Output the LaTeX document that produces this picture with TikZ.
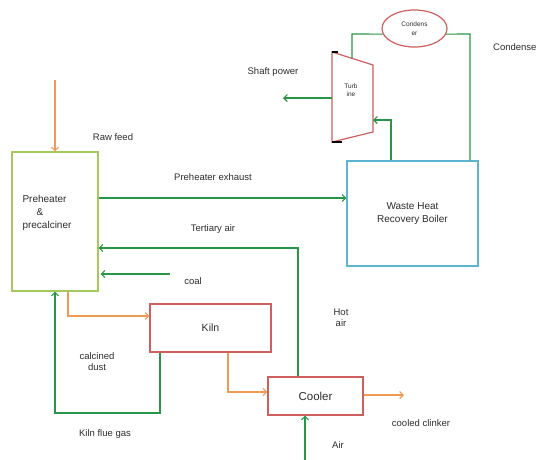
\documentclass[tikz,border=0pt]{standalone}
\usepackage{fontspec}
\setmainfont{Liberation Sans}
\usetikzlibrary{arrows.meta,shapes.geometric}
\definecolor{grn}{RGB}{40,150,70}
\definecolor{lime}{RGB}{165,200,95}
\definecolor{cyanb}{RGB}{95,180,210}
\definecolor{redb}{RGB}{205,95,95}
\definecolor{orng}{RGB}{240,155,85}
\definecolor{txt}{RGB}{45,45,45}
\begin{document}
\begin{tikzpicture}[x=1pt,y=-1pt,
  gline/.style={draw=grn,line width=1.1pt},
  oline/.style={draw=orng,line width=1.1pt},
  tip/.style={-{Straight Barb[length=3.5pt,width=7pt]}},
  box/.style={rectangle,line width=1.2pt,inner sep=0pt,align=center,text=txt},
  lbl/.style={text=txt,font=\fontsize{9.5}{11}\selectfont,align=center,inner sep=0pt}]
\useasboundingbox (0,0) rectangle (540,459);
\fill[white] (0,0) rectangle (540,459);
% boxes
\node[box,draw=lime,minimum width=86pt,minimum height=139pt] (pre) at (55,221.5) {};
\node[lbl,font=\fontsize{10}{13}\selectfont,align=left] (pretxt) at (47,213) {Preheater\\\hspace*{1.4em}\&\\precalciner};
\node[box,draw=cyanb,minimum width=131pt,minimum height=105pt,font=\fontsize{10}{12.5}\selectfont] (whrb) at (412.5,213.5) {Waste Heat\\Recovery Boiler};
\node[box,draw=redb,minimum width=121pt,minimum height=48pt,font=\fontsize{10.5}{12}\selectfont] (kiln) at (210.5,328) {Kiln};
\node[box,draw=redb,minimum width=95pt,minimum height=38pt,font=\fontsize{11.5}{13}\selectfont] (cooler) at (315.5,396) {Cooler};
\node[ellipse,draw=redb,line width=1.2pt,minimum width=65pt,minimum height=37pt,inner sep=0pt,text=txt,align=center,font=\fontsize{6.5}{9}\selectfont] (cond) at (414.5,28.5) {Condens\\er};
% turbine
\draw[draw=redb,line width=1.2pt] (332,52) -- (373,65) -- (373,132) -- (332,142) -- cycle;
\node[lbl,font=\fontsize{6.5}{8}\selectfont] (turb) at (351,90) {Turb\\ine};
\draw[black,line width=1.2pt] (332,52) -- (338,52);
\draw[black,line width=2pt] (332,142) -- (342,142);
% coordinates
\coordinate (rawtop) at (55,80);
\coordinate (exh) at (0,198);
\coordinate (ta) at (298,248);
\coordinate (coal0) at (170,274);
\coordinate (ok) at (68,316);
\coordinate (fg1) at (160,413);
\coordinate (fg2) at (55,413);
\coordinate (kc) at (228,392);
\coordinate (clk) at (404,395);
\coordinate (air0) at (305,462);
\coordinate (tl) at (332,98);
\coordinate (sp) at (283,98);
\coordinate (tt) at (352,58.3);
\coordinate (tc) at (352,34);
\coordinate (cr) at (470,34);
\coordinate (st) at (391,120);
\coordinate (tr) at (373,120);
% connectors
\draw[oline,tip] (rawtop) -- (pre.north);
\draw[gline,tip] (pre.east |- exh) -- (whrb.west |- exh);
\draw[gline,tip] (cooler.north -| ta) -- (ta) -- (pre.east |- ta);
\draw[gline,tip] (coal0) -- ([xshift=2pt]pre.east |- coal0);
\draw[oline,tip] (pre.south -| ok) -- (ok) -- (kiln.west |- ok);
\draw[gline,tip] (kiln.south -| fg1) -- (fg1) -- (fg2) -- (pre.south);
\draw[oline,tip] (kiln.south -| kc) -- (kc) -- (cooler.west |- kc);
\draw[oline,tip] (cooler.east |- clk) -- (clk);
\draw[gline,tip] (air0) -- (cooler.south -| air0);
\draw[gline,tip] (tl) -- (sp);
\draw[gline] (tt) -- (tc) -- (cond.190);
\draw[gline] (cond.-10) -- (cr) -- (whrb.north -| cr);
\draw[gline,tip] (whrb.north -| st) -- (st) -- (tr);
% labels
\node[lbl] (lraw) at (113,137) {Raw feed};
\node[lbl] (lexh) at (213,177) {Preheater exhaust};
\node[lbl] (lter) at (213,229) {Tertiary air};
\node[lbl] (lcoal) at (193,281) {coal};
\node[lbl] (lhot) at (341,318) {Hot\\air};
\node[lbl] (lcal) at (97,362) {calcined\\dust};
\node[lbl] (lflue) at (105,434) {Kiln flue gas};
\node[lbl] (lclk) at (421,423) {cooled clinker};
\node[lbl] (lair) at (338,445) {Air};
\node[lbl] (lshaft) at (273,72) {Shaft power};
\node[lbl,anchor=west] (lcond) at (493,47) {Condense};
\end{tikzpicture}
\end{document}
